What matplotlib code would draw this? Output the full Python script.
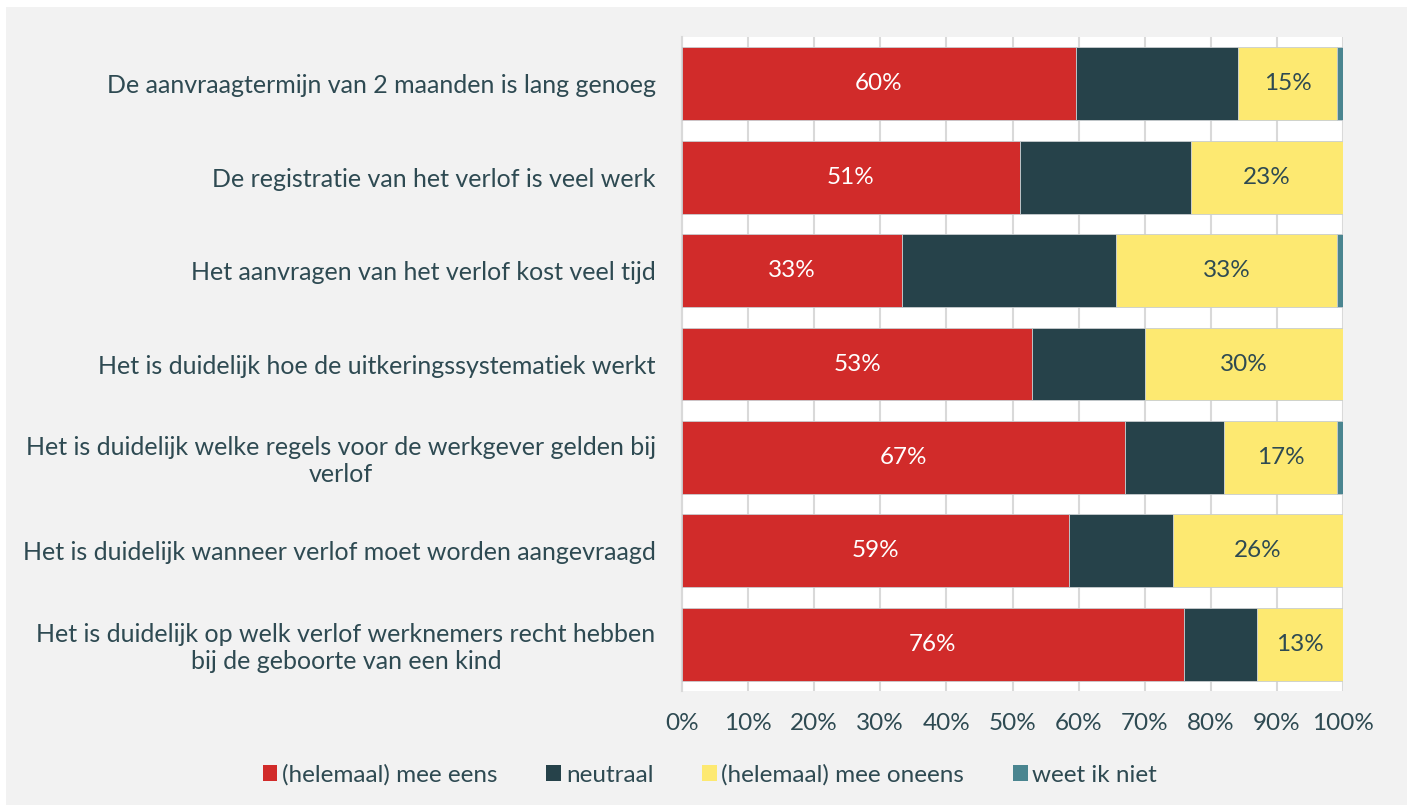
import matplotlib
matplotlib.use("Agg")
import matplotlib.pyplot as plt
from matplotlib.patches import Rectangle, Patch
import numpy as np

categories = [
    "De aanvraagtermijn van 2 maanden is lang genoeg",
    "De registratie van het verlof is veel werk",
    "Het aanvragen van het verlof kost veel tijd",
    "Het is duidelijk hoe de uitkeringssystematiek werkt",
    "Het is duidelijk welke regels voor de werkgever gelden bij\nverlof",
    "Het is duidelijk wanneer verlof moet worden aangevraagd",
    "Het is duidelijk op welk verlof werknemers recht hebben\nbij de geboorte van een kind",
]
eens = [59.6, 51.1, 33.3, 53.0, 67.0, 58.6, 75.9]
neutraal = [24.5, 25.9, 32.4, 17.0, 15.0, 15.7, 11.1]
oneens = [15.0, 23.0, 33.4, 30.0, 17.1, 25.7, 13.0]
weet_niet = [0.9, 0.0, 0.9, 0.0, 0.9, 0.0, 0.0]
series_names = ["(helemaal) mee eens", "neutraal", "(helemaal) mee oneens", "weet ik niet"]
xticks = [0, 10, 20, 30, 40, 50, 60, 70, 80, 90, 100]

colors = ["#d12b2a", "#26424a", "#fde971", "#4a8590"]
text_color = "#2e4a52"
plt.rcParams['font.family'] = ['Lato', 'DejaVu Sans']
FS = 17.5

fig = plt.figure(figsize=(14.07, 8.05), dpi=100)
fig.patch.set_facecolor("white")
fig.patches.append(Rectangle((6/1407, 0), 1, 1 - 7/805, transform=fig.transFigure,
                             facecolor="#f2f2f2", edgecolor="none", zorder=-10))

ax = fig.add_axes([682/1407, 1 - 691/805, (1343-682)/1407, (691-37)/805])
ax.set_facecolor("white")

y = np.arange(len(categories))
left = np.zeros(len(categories))
data = [eens, neutraal, oneens, weet_niet]
for vals, col, name in zip(data, colors, series_names):
    vals = np.array(vals)
    ax.barh(y, vals, left=left, height=0.78, color=col, edgecolor="#c8cdd0",
            linewidth=0.6, label=name, zorder=3)
    if name == series_names[0]:
        for yi, l, v in zip(y, left, vals):
            ax.text(l + v/2, yi, f"{v:.0f}%", ha="center", va="center",
                    color="white", fontsize=FS, zorder=4)
    if name == series_names[2]:
        for yi, l, v in zip(y, left, vals):
            ax.text(l + v/2, yi, f"{v:.0f}%", ha="center", va="center",
                    color=text_color, fontsize=FS, zorder=4)
    left = left + vals

ax.set_xlim(0, 100)
ax.set_ylim(len(categories) - 0.5, -0.5)
ax.set_xticks(xticks)
ax.set_xticklabels([f"{t}%" for t in xticks], color=text_color, fontsize=FS)
ax.set_yticks(y)
ax.set_yticklabels(categories, color=text_color, fontsize=18)
for lab in ax.get_yticklabels():
    lab.set_multialignment("center")
ax.tick_params(axis="y", length=0, pad=19)
ax.tick_params(axis="x", length=0, pad=16)
ax.grid(axis="x", color="#d9d9d9", linewidth=1.5, zorder=0)
ax.set_axisbelow(True)
for s in ["top", "right", "bottom"]:
    ax.spines[s].set_visible(False)
ax.spines["left"].set_color("#d9d9d9")
ax.spines["left"].set_linewidth(1.5)

handles = [Patch(facecolor=c, edgecolor="none") for c in colors]
fig.legend(handles, series_names, loc="center", bbox_to_anchor=(710/1407, 1 - 775/805),
           ncol=4, frameon=False, fontsize=FS, labelcolor=text_color,
           handlelength=0.6, handleheight=0.6, handletextpad=0.2, columnspacing=2.0)

fig.savefig("out.png", dpi=100, facecolor=fig.get_facecolor())
